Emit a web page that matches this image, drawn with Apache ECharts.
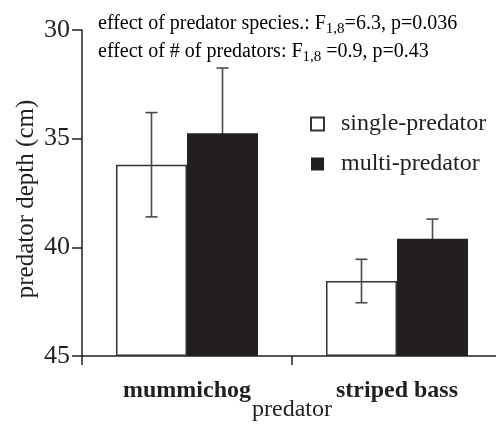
<!DOCTYPE html>
<html><head><meta charset="utf-8">
<script src="https://cdn.jsdelivr.net/npm/echarts@6/dist/echarts.min.js"></script>
<style>html,body{margin:0;padding:0;background:#fff}#c{width:496px;height:428px}</style>
</head><body><div id="c"></div>
<script>
const categories = ['mummichog', 'striped bass'];
const seriesNames = ['single-predator', 'multi-predator'];
const singleMean = [36.2, 41.55];
const singleErr = [2.4, 1.0];
const multiMean = [34.75, 39.6];
const multiErr = [3.0, 0.9];
const depthMin = 30, depthMax = 45, depthStep = 5;
const annot1 = ['effect of predator species.: F', '1,8', '=6.3, p=0.036'];
const annot2 = ['effect of # of predators: F', '1,8', ' =0.9, p=0.43'];

const FONT = '"Liberation Serif", "DejaVu Serif", serif';
const INK = '#231f20';
const BW = 71;
const toV = d => depthMax - d;

function errSeries(name, mean, err, side, z) {
  return {
    type: 'custom', name: name + ' err', z: z, silent: true,
    data: mean.map((m, i) => [i, toV(m - err[i]), toV(m + err[i])]),
    renderItem: function (params, api) {
      const top = api.coord([api.value(0), api.value(1)]);
      const bot = api.coord([api.value(0), api.value(2)]);
      const x = top[0] + side * BW / 2;
      const cw = 6;
      const st = { stroke: '#4a4a4a', lineWidth: 1.6 };
      return { type: 'group', children: [
        { type: 'line', shape: { x1: x, y1: top[1], x2: x, y2: bot[1] }, style: st },
        { type: 'line', shape: { x1: x - cw, y1: top[1], x2: x + cw, y2: top[1] }, style: st },
        { type: 'line', shape: { x1: x - cw, y1: bot[1], x2: x + cw, y2: bot[1] }, style: st }
      ]};
    }
  };
}

const chart = echarts.init(document.getElementById('c'), null, { renderer: 'canvas' });
const rich = {
  n: { fontFamily: FONT, fontSize: 20, color: INK, lineHeight: 24 },
  s: { fontFamily: FONT, fontSize: 15, color: INK, lineHeight: 24, padding: [12, 0, 0, 0] }
};
chart.setOption({
  animation: false,
  textStyle: { fontFamily: FONT, color: INK },
  grid: { left: 82, top: 30, width: 420, height: 326, containLabel: false, outerBoundsMode: 'none' },
  legend: {
    data: seriesNames, orient: 'vertical', left: 305, top: 107,
    itemWidth: 13, itemHeight: 13, itemGap: 16, icon: 'rect',
    textStyle: { fontFamily: FONT, fontSize: 24, color: INK, padding: [0, 0, 0, 12] }
  },
  xAxis: {
    type: 'category', data: categories,
    axisLine: { lineStyle: { color: INK, width: 1.5 } },
    axisTick: { show: true, length: 9, interval: 0, alignWithLabel: false, lineStyle: { color: INK, width: 1.5 } },
    axisLabel: { fontFamily: FONT, fontSize: 24, fontWeight: 'bold', color: INK, margin: 23, interval: 0 },
    name: 'predator', nameLocation: 'middle', nameGap: 42, nameMoveOverlap: false,
    nameTextStyle: { fontFamily: FONT, fontSize: 24, color: INK }
  },
  yAxis: {
    type: 'value', min: 0, max: depthMax - depthMin, interval: depthStep,
    splitLine: { show: false },
    axisLine: { show: true, lineStyle: { color: INK, width: 1.5 } },
    axisTick: { show: true, length: 10, lineStyle: { color: INK, width: 1.5 } },
    axisLabel: { fontFamily: FONT, fontSize: 26, color: INK, margin: 12, formatter: v => String(depthMax - v) },
    name: 'predator depth (cm)', nameLocation: 'middle', nameGap: 43, nameRotate: 90, nameMoveOverlap: false,
    nameTextStyle: { fontFamily: FONT, fontSize: 25, color: INK, padding: [0, 12, 0, 0] }
  },
  graphic: [
    { type: 'text', left: 98, top: 10, style: { rich: rich,
      text: '{n|' + annot1[0] + '}{s|' + annot1[1] + '}{n|' + annot1[2] + '}' } },
    { type: 'text', left: 98, top: 38, style: { rich: rich,
      text: '{n|' + annot2[0] + '}{s|' + annot2[1] + '}{n|' + annot2[2] + '}' } }
  ],
  series: [
    errSeries('single', singleMean, singleErr, -1, 5),
    errSeries('multi', multiMean, multiErr, 1, 1),
    { type: 'bar', name: seriesNames[0], barWidth: BW, barGap: '0%', z: 2,
      data: singleMean.map(toV),
      itemStyle: { color: '#ffffff', borderColor: '#333', borderWidth: 1.5 } },
    { type: 'bar', name: seriesNames[1], barWidth: BW, barGap: '0%', z: 3,
      data: multiMean.map(toV),
      itemStyle: { color: INK, borderColor: INK, borderWidth: 0 } }
  ]
});
</script></body></html>
